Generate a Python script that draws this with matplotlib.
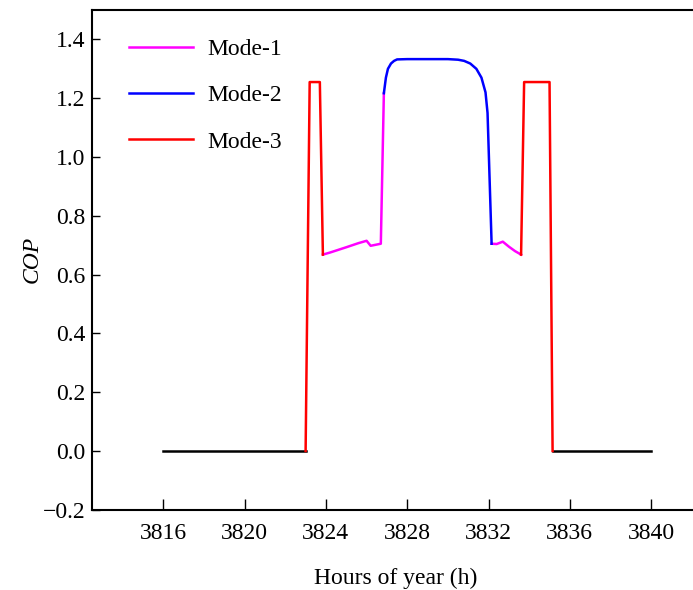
import numpy as np
import matplotlib
matplotlib.use("Agg")
from matplotlib import pyplot as plt

plt.rcParams['font.family'] = ['Liberation Serif', 'DejaVu Serif']

# off periods (COP = 0)
off1_h = [3816, 3823.0]
off1_cop = [0, 0]
off2_h = [3835.15, 3840]
off2_cop = [0, 0]

# Mode-3 segments
m3a_h = [3823.0, 3823.2, 3823.7, 3823.85]
m3a_cop = [0, 1.255, 1.255, 0.668]
m3b_h = [3833.6, 3833.75, 3835.0, 3835.15]
m3b_cop = [0.668, 1.255, 1.255, 0]

# Mode-1 segments
m1a_h = [3823.85, 3824.2, 3825.0, 3825.6, 3826.0, 3826.2, 3826.7, 3826.85]
m1a_cop = [0.668, 0.675, 0.693, 0.707, 0.715, 0.698, 0.705, 1.217]
m1b_h = [3832.15, 3832.4, 3832.7, 3833.0, 3833.3, 3833.6]
m1b_cop = [0.705, 0.704, 0.712, 0.695, 0.680, 0.668]

# Mode-2 segment
m2_h = [3826.85, 3826.95, 3827.05, 3827.2, 3827.35, 3827.5, 3828, 3829, 3830,
        3830.5, 3830.8, 3831.1, 3831.4, 3831.65, 3831.85, 3831.95, 3832.15]
m2_cop = [1.217, 1.27, 1.30, 1.318, 1.327, 1.332, 1.333, 1.333, 1.333,
          1.331, 1.327, 1.318, 1.30, 1.27, 1.22, 1.15, 0.705]

fs = 17
fig = plt.figure(figsize=(6.93, 5.9), dpi=100)
ax = fig.add_axes([0.133, 0.136, 0.875, 0.847])

lw = 1.8
ax.plot(off1_h, off1_cop, color='black', lw=lw)
ax.plot(off2_h, off2_cop, color='black', lw=lw)
ax.plot(m1a_h, m1a_cop, color='#ff00ff', lw=lw, label='Mode-1')
ax.plot(m1b_h, m1b_cop, color='#ff00ff', lw=lw)
ax.plot(m2_h, m2_cop, color='#0000ff', lw=lw, label='Mode-2')
ax.plot(m3a_h, m3a_cop, color='#ff0000', lw=lw, label='Mode-3')
ax.plot(m3b_h, m3b_cop, color='#ff0000', lw=lw)

ax.set_xlim(3812.5, 3842.33)
ax.set_ylim(-0.2, 1.5)
ax.set_xticks(np.arange(3816, 3841, 4))
ax.set_yticks(np.arange(-0.2, 1.41, 0.2))
ax.set_yticklabels(['\u22120.2', '0.0', '0.2', '0.4', '0.6', '0.8', '1.0', '1.2', '1.4'])
ax.tick_params(direction='in', labelsize=fs, length=6, width=1.0, pad=5)
ax.tick_params(axis='x', length=8, pad=9.5)
ax.spines['right'].set_visible(False)
for s in ['left', 'top', 'bottom']:
    ax.spines[s].set_linewidth(1.5)

ax.set_xlabel('Hours of year (h)', fontsize=fs, labelpad=17)
ax.set_ylabel('COP', fontsize=fs, style='italic', labelpad=0)

leg = ax.legend(loc='upper left', frameon=False, fontsize=fs, handlelength=2.7,
                labelspacing=1.05, handletextpad=0.62, borderaxespad=0,
                bbox_to_anchor=(0.045, 0.962))

fig.savefig('out.png', dpi=100)
